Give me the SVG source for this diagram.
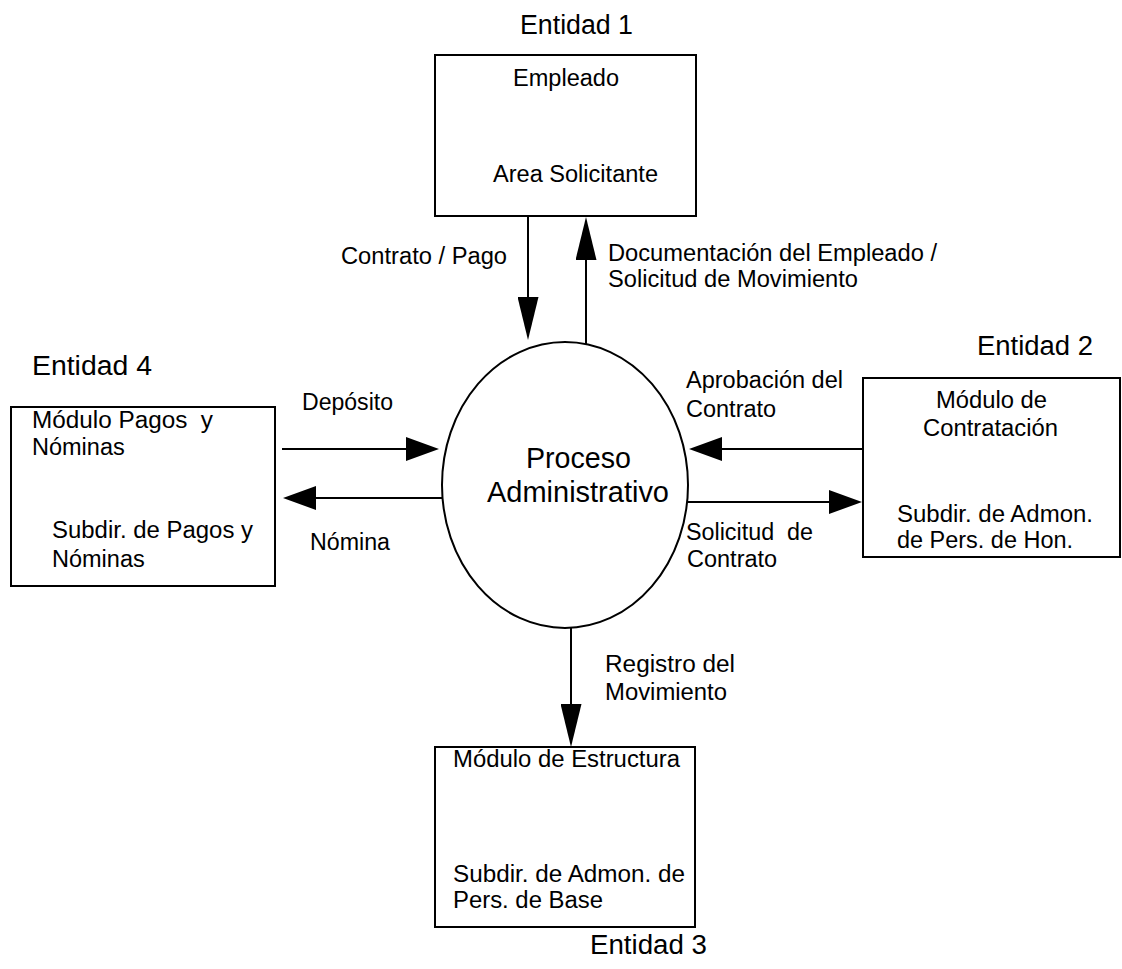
<svg xmlns="http://www.w3.org/2000/svg" width="1122" height="969" viewBox="0 0 1122 969">
  <style>
    text { font-family: "Liberation Sans", Arial, sans-serif; fill: #000; }
    .t { font-size: 23.5px; }
    .ent { font-size: 27px; }
    .proc { font-size: 29px; }
    .box { fill: #fff; stroke: #000; stroke-width: 2; }
    .flow { stroke: #000; stroke-width: 2; fill: none; }
  </style>
  <defs>
    <marker id="ah-v" markerUnits="userSpaceOnUse" viewBox="0 0 43 21" markerWidth="43" markerHeight="21" refX="3" refY="10.5" orient="auto">
      <path d="M0,0 L43,10.5 L0,21 Z" fill="#000"/>
    </marker>
    <marker id="ah-h" markerUnits="userSpaceOnUse" viewBox="0 0 33 24" markerWidth="33" markerHeight="24" refX="3" refY="12" orient="auto">
      <path d="M0,0 L33,12 L0,24 Z" fill="#000"/>
    </marker>
  </defs>

  <rect width="1122" height="969" fill="#fff"/>

  <!-- Entidad 1 -->
  <g id="entidad1">
    <text class="ent" x="520" y="34" textLength="113" lengthAdjust="spacingAndGlyphs">Entidad 1</text>
    <rect class="box" x="435" y="55" width="261" height="161"/>
    <text class="t" x="513" y="86" textLength="106" lengthAdjust="spacingAndGlyphs">Empleado</text>
    <text class="t" x="493" y="182" textLength="165" lengthAdjust="spacingAndGlyphs">Area Solicitante</text>
  </g>

  <!-- Entidad 4 -->
  <g id="entidad4">
    <text class="ent" x="32" y="375" textLength="120" lengthAdjust="spacingAndGlyphs">Entidad 4</text>
    <rect class="box" x="11" y="407" width="264" height="179"/>
    <text class="t" x="32" y="428" textLength="181" lengthAdjust="spacingAndGlyphs" xml:space="preserve">Módulo Pagos  y</text>
    <text class="t" x="32" y="455">Nóminas</text>
    <text class="t" x="52" y="538" textLength="201" lengthAdjust="spacingAndGlyphs">Subdir. de Pagos y</text>
    <text class="t" x="52" y="567">Nóminas</text>
  </g>

  <!-- Entidad 2 -->
  <g id="entidad2">
    <text class="ent" x="977" y="355" textLength="116" lengthAdjust="spacingAndGlyphs">Entidad 2</text>
    <rect class="box" x="863" y="378" width="257" height="179"/>
    <text class="t" x="936" y="408" textLength="111" lengthAdjust="spacingAndGlyphs">Módulo de</text>
    <text class="t" x="923" y="436" textLength="135" lengthAdjust="spacingAndGlyphs">Contratación</text>
    <text class="t" x="897" y="522" textLength="196" lengthAdjust="spacingAndGlyphs">Subdir. de Admon.</text>
    <text class="t" x="897" y="548" textLength="176" lengthAdjust="spacingAndGlyphs">de Pers. de Hon.</text>
  </g>

  <!-- Entidad 3 -->
  <g id="entidad3">
    <rect class="box" x="435" y="747" width="260" height="180"/>
    <text class="t" x="453" y="767" textLength="227" lengthAdjust="spacingAndGlyphs">Módulo de Estructura</text>
    <text class="t" x="453" y="882" textLength="232" lengthAdjust="spacingAndGlyphs">Subdir. de Admon. de</text>
    <text class="t" x="453" y="908" textLength="150" lengthAdjust="spacingAndGlyphs">Pers. de Base</text>
    <text class="ent" x="590" y="954" textLength="117" lengthAdjust="spacingAndGlyphs">Entidad 3</text>
  </g>

  <!-- Central process -->
  <g id="proceso">
    <ellipse class="box" cx="565" cy="485" rx="123" ry="143"/>
    <text class="proc" x="526" y="468" textLength="105" lengthAdjust="spacingAndGlyphs">Proceso</text>
    <text class="proc" x="487" y="502" textLength="182" lengthAdjust="spacingAndGlyphs">Administrativo</text>
  </g>

  <!-- Data flows -->
  <g id="connectors">
    <line class="flow" x1="528" y1="216" x2="528" y2="300" marker-end="url(#ah-v)"/>
    <line class="flow" x1="586" y1="344" x2="586" y2="257" marker-end="url(#ah-v)"/>
    <line class="flow" x1="282" y1="449" x2="409" y2="449" marker-end="url(#ah-h)"/>
    <line class="flow" x1="442" y1="498" x2="313" y2="498" marker-end="url(#ah-h)"/>
    <line class="flow" x1="863" y1="449" x2="719" y2="449" marker-end="url(#ah-h)"/>
    <line class="flow" x1="688" y1="502" x2="832" y2="502" marker-end="url(#ah-h)"/>
    <line class="flow" x1="571" y1="628" x2="571" y2="707" marker-end="url(#ah-v)"/>

    <text class="t" x="341" y="264" textLength="166" lengthAdjust="spacingAndGlyphs">Contrato / Pago</text>
    <text class="t" x="608" y="261" textLength="329" lengthAdjust="spacingAndGlyphs">Documentación del Empleado /</text>
    <text class="t" x="608" y="287" textLength="250" lengthAdjust="spacingAndGlyphs">Solicitud de Movimiento</text>
    <text class="t" x="302" y="410" textLength="91" lengthAdjust="spacingAndGlyphs">Depósito</text>
    <text class="t" x="310" y="550" textLength="80" lengthAdjust="spacingAndGlyphs">Nómina</text>
    <text class="t" x="686" y="388" textLength="157" lengthAdjust="spacingAndGlyphs">Aprobación del</text>
    <text class="t" x="686" y="417">Contrato</text>
    <text class="t" x="686" y="540" textLength="127" lengthAdjust="spacingAndGlyphs" xml:space="preserve">Solicitud  de</text>
    <text class="t" x="687" y="567">Contrato</text>
    <text class="t" x="605" y="672" textLength="130" lengthAdjust="spacingAndGlyphs">Registro del</text>
    <text class="t" x="605" y="700" textLength="122" lengthAdjust="spacingAndGlyphs">Movimiento</text>
  </g>
</svg>
